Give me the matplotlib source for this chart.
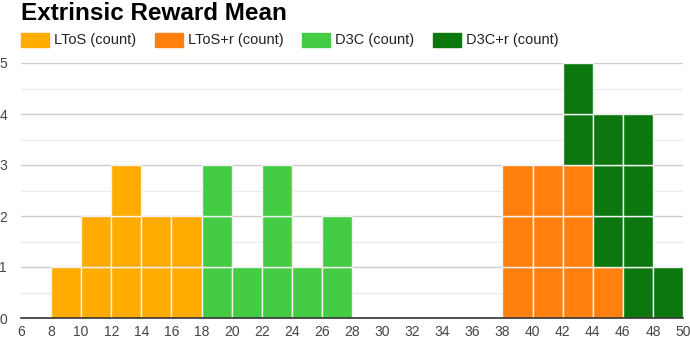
import numpy as np
import matplotlib
matplotlib.use("Agg")
import matplotlib.pyplot as plt
from matplotlib.patches import Rectangle

plt.rcParams['font.family'] = ['Liberation Sans', 'DejaVu Sans']

# histogram bins (width 2) and counts per series
bin_edges = [8, 10, 12, 14, 16, 18, 20, 22, 24, 26, 28, 38, 40, 42, 44, 46, 48]
series_names = ['LToS (count)', 'LToS+r (count)', 'D3C (count)', 'D3C+r (count)']
ltos = [1, 2, 3, 2, 2, 0, 0, 0, 0, 0, 0, 0, 0, 0, 0, 0, 0]
ltos_r = [0, 0, 0, 0, 0, 0, 0, 0, 0, 0, 0, 3, 3, 3, 1, 0, 0]
d3c = [0, 0, 0, 0, 0, 3, 1, 3, 1, 2, 0, 0, 0, 0, 0, 0, 0]
d3c_r = [0, 0, 0, 0, 0, 0, 0, 0, 0, 0, 0, 0, 0, 2, 3, 4, 1]
colors = ['#ffab00', '#ff800e', '#44cc44', '#0b770e']
x_ticks = list(range(6, 51, 2))

fig = plt.figure(figsize=(6.9, 3.39), dpi=100)
ax = fig.add_axes([21 / 690, 1 - 318 / 339, 662 / 690, 255 / 339])

all_series = [ltos, ltos_r, d3c, d3c_r]
heights = np.zeros(len(bin_edges))
for counts, col in zip(all_series, colors):
    for i, c in enumerate(counts):
        # each item drawn as its own unit block, like the source chart
        for k in range(c):
            ax.bar(bin_edges[i], 1, width=2, bottom=heights[i] + k, align='edge',
                   color=col, edgecolor='#f2f2f2', linewidth=1.0, zorder=3)
        heights[i] += c

ax.set_xlim(6, 50)
ax.set_ylim(0, 5)
ax.set_xticks(x_ticks)
ax.set_yticks(range(0, 6))
ax.set_yticks(np.arange(0.5, 5, 1), minor=True)
ax.grid(axis='y', which='major', color='#cccccc', linewidth=1, zorder=0)
ax.grid(axis='y', which='minor', color='#ebebeb', linewidth=1, zorder=0)
for s in ['top', 'right', 'left']:
    ax.spines[s].set_visible(False)
ax.spines['bottom'].set_color('#333333')
ax.spines['bottom'].set_linewidth(1.2)
ax.spines['bottom'].set_zorder(5)
ax.tick_params(axis='both', which='both', length=0, labelsize=10, labelcolor='#444444')
ax.tick_params(axis='y', pad=10)
ax.tick_params(axis='x', pad=5)

fig.text(21 / 690, 1 - 13 / 339, 'Extrinsic Reward Mean', fontsize=17.5,
         fontweight='bold', va='center', ha='left', color='#000000')

# legend row
box_x = [21, 155, 302, 433]
for bx, name, col in zip(box_x, series_names, colors):
    fig.patches.append(Rectangle((bx / 690, 1 - 47 / 339), 28 / 690, 14 / 339,
                                 transform=fig.transFigure, color=col))
    fig.text((bx + 33) / 690, 1 - 40 / 339, name, fontsize=10.5, va='center',
             ha='left', color='#222222')

fig.savefig('out.png', dpi=100)
